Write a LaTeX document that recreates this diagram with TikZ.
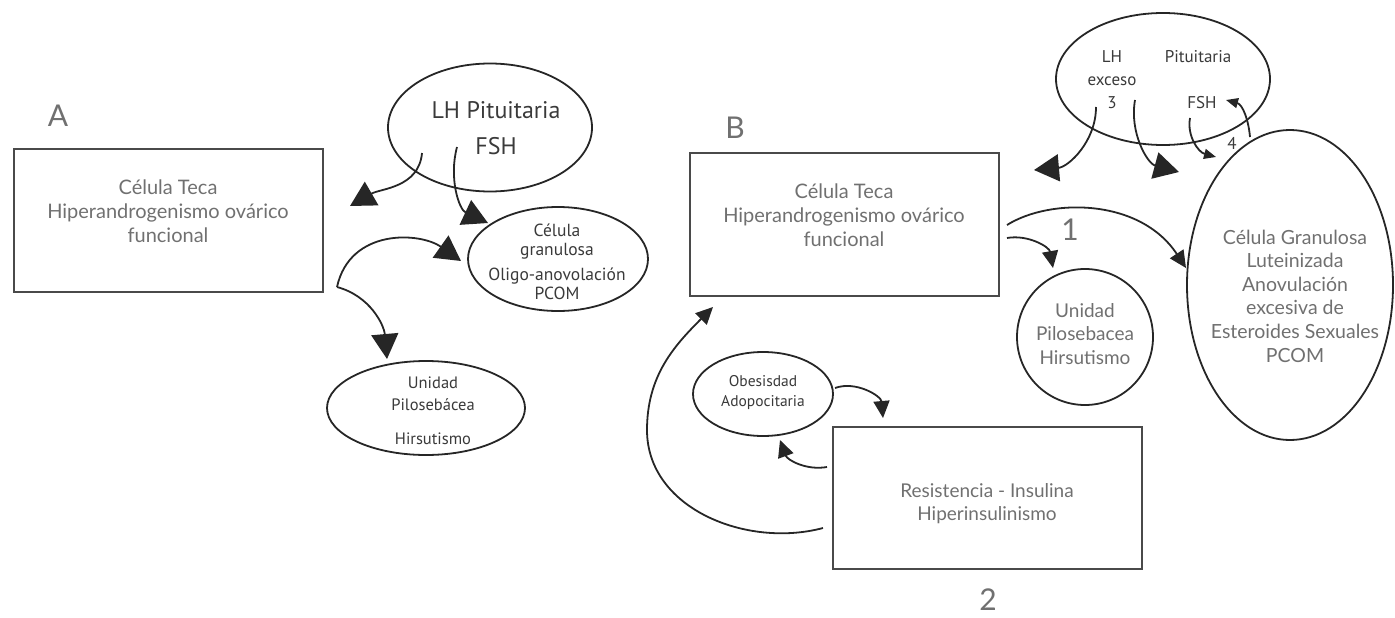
\documentclass[tikz,border=0pt]{standalone}
\usepackage{fontspec}
\setmainfont{Lato}
\newfontfamily\myr{PT Sans}
\usetikzlibrary{arrows.meta,shapes.geometric}
\definecolor{boxtext}{HTML}{707070}
\definecolor{ink}{HTML}{262626}
\definecolor{frame}{HTML}{4A4A4A}
\definecolor{elltext}{HTML}{3A3A3A}
\begin{document}
\begin{tikzpicture}[x=1pt,y=-1pt,
  boxshape/.style={draw=frame,line width=2pt,minimum width=309pt,minimum height=143pt,inner sep=0pt},
  ell/.style={draw=ink,ellipse,line width=1.8pt,inner sep=0pt},
  boxtxt/.style={text=boxtext,align=center,inner sep=0pt,font=\fontsize{20}{24}\selectfont},
  elltxt/.style={text=elltext,align=center,inner sep=0pt,font=\myr\fontsize{18}{20}\selectfont},
  lbl/.style={text=boxtext,inner sep=0pt,font=\fontsize{30}{30}\selectfont},
  con/.style={draw=ink,line width=1.8pt},
  bighead/.style={-{Triangle[length=25pt,width=27pt]}},
  midhead/.style={-{Triangle[length=17pt,width=16pt]}},
  smallhead/.style={-{Triangle[length=12pt,width=10pt]}},
]
\useasboundingbox (0,0) rectangle (1395,618);

% ---------- A ----------
\node[lbl] (labA) at (58,116) {A};
\node[boxshape] (boxA) at (168.5,220.5) {};
\node[boxtxt] (txtA) at (168,211) {Célula Teca\\Hiperandrogenismo ovárico\\funcional};
\node[ell,minimum width=204pt,minimum height=128pt] (lhA) at (490,127.5) {};
\node[elltxt,font=\myr\fontsize{24}{36}\selectfont] (lhAt) at (496,128) {LH Pituitaria\\FSH};
\node[ell,minimum width=180pt,minimum height=104pt] (granA) at (558,259) {};
\node[elltxt,font=\myr\fontsize{17.5}{19}\selectfont] (granAt) at (557,262) {Célula\\granulosa\\[6pt]Oligo-anovolación\\PCOM};
\node[ell,minimum width=198pt,minimum height=94pt] (uniA) at (426,408) {};
\node[elltxt,font=\myr\fontsize{16.5}{22}\selectfont] (uniAt) at (433,411) {Unidad\\Pilosebácea\\[12pt]Hirsutismo};

\coordinate (a1s) at (422,153);
\coordinate (a1e) at (350,206);
\coordinate (a2s) at (457,147);
\coordinate (a2e) at (488,223);
\coordinate (a3s) at (337,287);
\coordinate (a3e) at (461,261);
\coordinate (a4e) at (387,359);
\draw[con,bighead] (a1s) to[out=-95,in=30] (a1e);
\draw[con,bighead] (a2s) to[out=-105,in=155] (a2e);
\draw[con,bighead] (a3s) .. controls (350,228) and (420,232) .. (a3e);
\draw[con,bighead] (a3s) to[out=-15,in=95] (a4e);

% ---------- B ----------
\node[lbl] (labB) at (735,128) {B};
\node[boxshape] (boxB) at (844.5,224.5) {};
\node[boxtxt] (txtB) at (844,215) {Célula Teca\\Hiperandrogenismo ovárico\\funcional};
\node[lbl] (lab1) at (1070,230) {1};
\node[ell,minimum width=136pt,minimum height=136pt] (uniB) at (1085,337) {};
\node[boxtxt,font=\fontsize{19}{23.5}\selectfont] (uniBt) at (1085,334) {Unidad\\Pilosebacea\\Hirsutismo};
\node[ell,minimum width=206pt,minimum height=310pt] (granB) at (1290,285) {};
\node[boxtxt,font=\fontsize{19.5}{23.6}\selectfont] (granBt) at (1295,296) {Célula Granulosa\\Luteinizada\\Anovulación\\excesiva de\\Esteroides Sexuales\\PCOM};
\node[ell,minimum width=214pt,minimum height=132pt] (pit) at (1163,79) {};
\node[elltxt,font=\myr\fontsize{17}{23}\selectfont] (pitL) at (1112,80) {LH\\exceso\\3};
\node[elltxt,font=\myr\fontsize{17}{18}\selectfont] (pitP) at (1198,57) {Pituitaria};
\node[elltxt,font=\myr\fontsize{17}{18}\selectfont] (pitF) at (1202,103) {FSH};
\node[elltxt,font=\myr\fontsize{17}{18}\selectfont] (pit4) at (1232,143) {4};

\coordinate (b1s) at (1007,225);
\coordinate (b1e) at (1186,268);
\coordinate (b2s) at (1007,238);
\coordinate (b2e) at (1053,268);
\draw[con,midhead] (b1s) .. controls (1050,198) and (1140,198) .. (b1e);
\draw[con,midhead] (b2s) to[out=10,in=100] (b2e);

\coordinate (t1s) at (1096,107);
\coordinate (t1e) at (1034,170);
\coordinate (t2s) at (1135,100);
\coordinate (t2e) at (1179,172);
\coordinate (t3s) at (1190,118);
\coordinate (t3e) at (1216,157);
\coordinate (t4s) at (1250,137);
\coordinate (t4e) at (1226,100);
\draw[con,bighead] (t1s) to[out=-90,in=5] (t1e);
\draw[con,bighead] (t2s) to[out=-100,in=165] (t2e);
\draw[con,smallhead] (t3s) to[out=-100,in=165] (t3e);
\draw[con,smallhead] (t4s) to[out=95,in=-15] (t4e);

% ---------- bottom ----------
\node[ell,minimum width=140pt,minimum height=84pt] (obe) at (763,394) {};
\node[elltxt,font=\myr\fontsize{15.5}{20}\selectfont] (obet) at (763,393) {Obesisdad\\Adopocitaria};
\node[boxshape,minimum height=142pt] (boxR) at (987.5,498) {};
\node[boxtxt,font=\fontsize{19}{23}\selectfont] (txtR) at (987,503.5) {Resistencia - Insulina\\Hiperinsulinismo};
\node[lbl] (lab2) at (988,600) {2};

\coordinate (o1s) at (835,388);
\coordinate (o1e) at (883,418);
\coordinate (o2s) at (827,467);
\coordinate (o2e) at (780,440);
\coordinate (bgs) at (823,528);
\coordinate (bgm) at (647,430);
\coordinate (bge) at (713,307);
\draw[con,midhead] (o1s) to[out=20,in=95] (o1e);
\draw[con,midhead] (o2s) to[out=190,in=-70] (o2e);
\draw[con,midhead] (bgs) to[out=195,in=-90] (bgm) to[out=90,in=225] (bge);
\end{tikzpicture}
\end{document}
